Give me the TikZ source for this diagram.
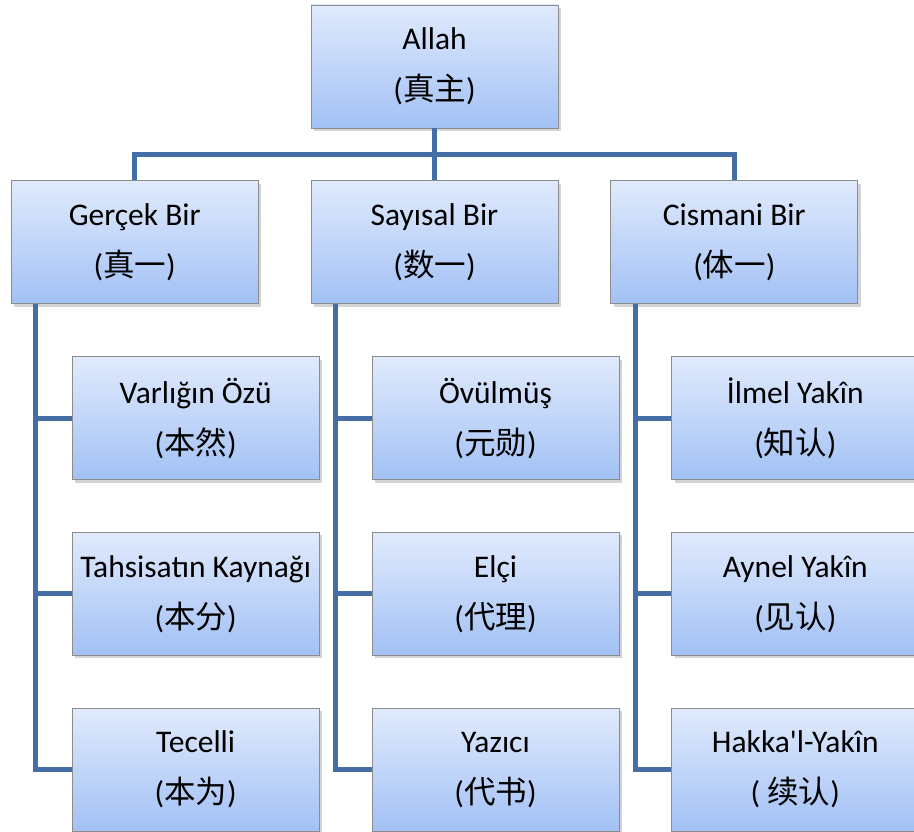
\documentclass[tikz,border=0pt]{standalone}
\usepackage{fontspec}
\setmainfont{Carlito}
\newfontfamily\cjk{Noto Sans CJK SC}
\usetikzlibrary{positioning,shadows}
\definecolor{boxtop}{RGB}{224,234,252}
\definecolor{boxbot}{RGB}{162,193,245}
\definecolor{boxline}{RGB}{140,140,140}
\definecolor{linkblue}{RGB}{68,110,165}

\begin{document}
\begin{tikzpicture}[box/.style = {draw=boxline, line width=0.8pt, top color=boxtop, bottom color=boxbot,
            minimum width=247pt, minimum height=123pt, inner sep=0pt, align=center,
            font=\fontsize{31.5}{51}\selectfont,
            drop shadow={shadow xshift=3pt, shadow yshift=-3pt, opacity=0.35}},
            link/.style = {draw=linkblue, line width=5pt}, node distance=52pt]
            \useasboundingbox (0,0) rectangle (914pt,-832pt);
            \clip (0,0) rectangle (914pt,-832pt);

            \node[box](1) at (434.5pt,-66.5pt){Allah\\({\cjk 真主})};
            \node[box](3)[below=of 1]{Sayısal Bir\\({\cjk 数一})};
            \node[box](2)[left=of 3]{Gerçek Bir\\({\cjk 真一})};
            \node[box](4)[right=of 3]{Cismani Bir\\({\cjk 体一})};

            \node[box](21)[below right=52pt and 61pt of 2.south west]{Varlığın Özü\\({\cjk 本然})};
            \node[box](22)[below=of 21]{Tahsisatın Kaynağı\\({\cjk 本分})};
            \node[box](23)[below=of 22]{Tecelli\\({\cjk 本为})};

            \node[box](31)[below right=52pt and 61pt of 3.south west]{Övülmüş\\({\cjk 元勋})};
            \node[box](32)[below=of 31]{Elçi\\({\cjk 代理})};
            \node[box](33)[below=of 32]{Yazıcı\\({\cjk 代书})};

            \node[box](41)[below right=52pt and 61pt of 4.south west]{İlmel Yakîn\\({\cjk 知认})};
            \node[box](42)[below=of 41]{Aynel Yakîn\\({\cjk 见认})};
            \node[box](43)[below=of 42]{Hakka\textquotesingle l-Yakîn\\( {\cjk 续认})};

            \draw[link] (1) -- (3);
            \draw[link] (1.south) -- ++(0,-26pt) -| (2.north);
            \draw[link] (1.south) -- ++(0,-26pt) -| (4.north);

            \draw[link] ([xshift=25pt]2.south west) |- (21.west);\draw[link] ([xshift=25pt]2.south west) |- (22.west);
            \draw[link] ([xshift=25pt]2.south west) |- (23.west);
            \draw[link] ([xshift=25pt]3.south west) |- (31.west);\draw[link] ([xshift=25pt]3.south west) |- (32.west);
            \draw[link] ([xshift=25pt]3.south west) |- (33.west);
            \draw[link] ([xshift=25pt]4.south west) |- (41.west);\draw[link] ([xshift=25pt]4.south west) |- (42.west);
            \draw[link] ([xshift=25pt]4.south west) |- (43.west);
        \end{tikzpicture}
\end{document}
